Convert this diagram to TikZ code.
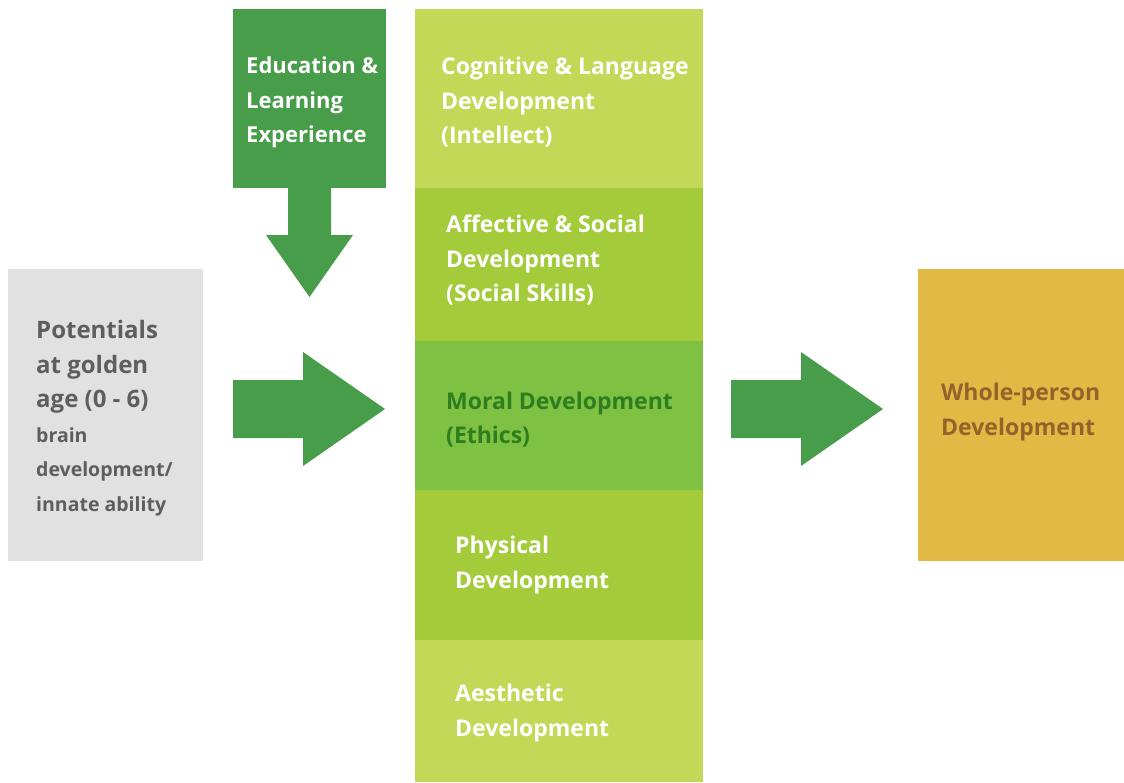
\documentclass[tikz,border=0pt]{standalone}
\usepackage{fontspec}
\setmainfont{Open Sans}
\usetikzlibrary{positioning}

\definecolor{greybox}{HTML}{E0E1E0}
\definecolor{greytext}{HTML}{5E5E5E}
\definecolor{darkgreen}{HTML}{479D4A}
\definecolor{lightlime}{HTML}{C2D856}
\definecolor{lime}{HTML}{A3CB3A}
\definecolor{grass}{HTML}{7FC143}
\definecolor{mossy}{HTML}{2E7D1F}
\definecolor{gold}{HTML}{E2B945}
\definecolor{goldtext}{HTML}{97622A}

\tikzset{>=latex,
  box/.style={anchor=north west, inner sep=0pt, outer sep=0pt},
  band/.style={box, minimum width=288, fill=#1},
  lbl/.style={anchor=west, align=left, inner sep=0pt, text=white,
    font=\fontsize{23}{34.5}\selectfont\bfseries},
  fat/.style={fill=darkgreen}}

\begin{document}
\begin{tikzpicture}[x=1pt,y=-1pt]
\useasboundingbox (0,0) rectangle (1124,782);

% input side
\node[box, fill=greybox, minimum width=195, minimum height=292] (potential) at (8,269) {};
\node[lbl, text=greytext, right=28pt of potential.west, yshift=-3pt] (potlbl)
  {{\fontsize{24}{35}\selectfont Potentials}\\{\fontsize{24}{35}\selectfont at golden}\\
   {\fontsize{24}{35}\selectfont age (0 - 6)}\\{\fontsize{19.5}{35}\selectfont brain}\\
   {\fontsize{19.5}{35}\selectfont development/}\\{\fontsize{19.5}{35}\selectfont innate ability}};

\node[box, fill=darkgreen, minimum width=153, minimum height=179] (edu) at (233,9) {};
\node[lbl, font=\fontsize{22}{34.5}\selectfont\bfseries, right=13pt of edu.west, yshift=-4pt] (edulbl)
  {Education \&\\Learning\\Experience};

% the five domains
\foreach \n/\t/\h/\c in {cog/9/179/lightlime, aff/188/153/lime, moral/341/149/grass,
                         phys/490/150/lime, aes/640/142/lightlime}
  \node[band=\c, minimum height=\h] (\n) at (415,\t) {};

\node[lbl, right=26pt of cog.west, yshift=-4pt] (coglbl) {Cognitive \& Language\\Development\\(Intellect)};
\node[lbl, right=31pt of aff.west, yshift=4pt] (afflbl) {Affective \& Social\\Development\\(Social Skills)};
\node[lbl, text=mossy, right=31pt of moral.west, yshift=-4pt] (morallbl) {Moral Development\\(Ethics)};
\node[lbl, right=40pt of phys.west] (physlbl) {Physical\\Development};
\node[lbl, right=40pt of aes.west, yshift=-2pt] (aeslbl) {Aesthetic\\Development};

% outcome
\node[box, fill=gold, minimum width=206, minimum height=292] (whole) at (918,269) {};
\node[lbl, text=goldtext, right=23pt of whole.west, yshift=3pt] (wholelbl) {Whole-person\\Development};

% block arrows
\fill[fat] (288,188) -- (331,188) -- (331,235) -- (353,235) -- (309.5,297)
  -- (266,235) -- (288,235) -- cycle;
\foreach \dx in {0,498}
  \fill[fat] (233+\dx,380) -- (303+\dx,380) -- (303+\dx,352) -- (385+\dx,409)
    -- (303+\dx,466) -- (303+\dx,438) -- (233+\dx,438) -- cycle;
\end{tikzpicture}
\end{document}
